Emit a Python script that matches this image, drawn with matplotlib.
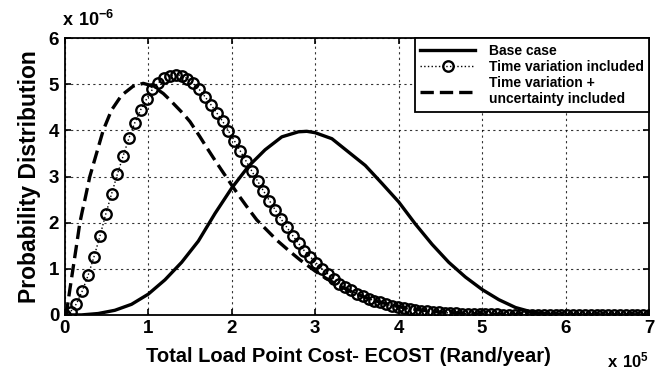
import numpy as np
import matplotlib
matplotlib.use("Agg")
import matplotlib.pyplot as plt

plt.rcParams['font.family'] = ['Liberation Sans', 'DejaVu Sans']
plt.rcParams['font.weight'] = 'bold'
plt.rcParams['mathtext.fontset'] = 'custom'
plt.rcParams['mathtext.bf'] = 'Liberation Sans:bold'
plt.rcParams['mathtext.rm'] = 'Liberation Sans:bold'

# Base case (solid curve), x in units of 1e5, y in units of 1e-6
base_x = [0, 0.2, 0.4, 0.6, 0.8, 1.0, 1.2, 1.4, 1.6, 1.8, 2.0, 2.2, 2.4, 2.6,
          2.8, 2.9, 3.0, 3.2, 3.4, 3.6, 3.8, 4.0, 4.2, 4.4, 4.6, 4.8, 5.0,
          5.2, 5.4, 5.6, 5.8, 6.0, 7.0]
base_y = [0, 0.0, 0.03, 0.10, 0.23, 0.45, 0.76, 1.14, 1.60, 2.20, 2.75, 3.22,
          3.58, 3.86, 3.97, 3.98, 3.95, 3.82, 3.53, 3.24, 2.85, 2.45, 1.97,
          1.53, 1.14, 0.82, 0.55, 0.33, 0.16, 0.06, 0.015, 0.0, 0.0]

# Time variation included (circle markers, step 0.07)
tv_x = np.linspace(0, 7, 101)
tv_y = [0.0, 0.07, 0.24, 0.52, 0.86, 1.26, 1.70, 2.18, 2.62, 3.05,
        3.45, 3.84, 4.17, 4.45, 4.68, 4.89, 5.03, 5.13, 5.19, 5.21,
        5.19, 5.12, 5.02, 4.89, 4.73, 4.56, 4.38, 4.20, 3.99, 3.78,
        3.56, 3.34, 3.12, 2.90, 2.69, 2.48, 2.28, 2.08, 1.90, 1.72,
        1.55, 1.39, 1.26, 1.13, 1.00, 0.89, 0.78, 0.68, 0.60, 0.53,
        0.46, 0.40, 0.35, 0.31, 0.27, 0.23, 0.20, 0.17, 0.15, 0.13,
        0.11, 0.095, 0.08, 0.07, 0.06, 0.05, 0.04, 0.035, 0.03, 0.025,
        0.02, 0.017, 0.014, 0.012, 0.01, 0.008, 0.007, 0.006, 0.005, 0.004,
        0.004, 0.003, 0.003, 0.002, 0.002, 0.002, 0.001, 0.001, 0.001, 0.001,
        0.0, 0.0, 0.0, 0.0, 0.0, 0.0, 0.0, 0.0, 0.0, 0.0, 0.0]

# Time variation + uncertainty included (dashed curve)
unc_x = [0, 0.02, 0.06, 0.09, 0.12, 0.15, 0.18, 0.21, 0.24, 0.30, 0.38, 0.46,
         0.56, 0.68, 0.82, 0.94, 1.02, 1.10, 1.18, 1.26, 1.34, 1.42, 1.50,
         1.62, 1.70, 1.80, 1.90, 2.02, 2.10, 2.20, 2.30, 2.42, 2.54, 2.68,
         2.82, 2.94, 3.06, 3.18, 3.30, 3.45, 3.60, 3.75, 3.90, 4.05, 4.20,
         4.50, 5.00, 5.50, 6.00, 7.00]
unc_y = [0, 0.04, 0.54, 0.90, 1.26, 1.62, 1.99, 2.25, 2.49, 3.00, 3.50, 4.00,
         4.44, 4.76, 4.96, 5.02, 4.98, 4.90, 4.80, 4.66, 4.51, 4.36, 4.19,
         3.86, 3.63, 3.35, 3.08, 2.76, 2.55, 2.30, 2.06, 1.84, 1.62, 1.40,
         1.19, 1.03, 0.87, 0.74, 0.62, 0.49, 0.38, 0.29, 0.22, 0.16, 0.12,
         0.06, 0.02, 0.005, 0.0, 0.0]

fig = plt.figure(figsize=(6.61, 3.74), dpi=100)
ax = fig.add_axes([0.098, 0.158, 0.884, 0.74])

ax.plot(base_x, base_y, '-', color='black', linewidth=2.4, label='Base case')
ax.plot(tv_x, tv_y, ':', color='black', linewidth=1.0, marker='o', markersize=7.5,
        markerfacecolor='none', markeredgewidth=1.7, label='Time variation included')
ax.plot(unc_x, unc_y, '--', color='black', linewidth=2.4, dashes=(4, 1.8),
        label='Time variation +\nuncertainty included')

ax.set_xlim(0, 7)
ax.set_ylim(0, 6)
ax.set_xticks(range(0, 8))
ax.set_yticks(range(0, 7))
ax.tick_params(direction='in', labelsize=13.5, width=1.2, length=4, top=True, right=True,
               labeltop=False, labelright=False, pad=4)
for lab in ax.get_xticklabels() + ax.get_yticklabels():
    lab.set_fontweight('bold')
for s in ax.spines.values():
    s.set_linewidth(1.3)
ax.grid(True, color='black', linestyle=(0, (2, 3)), linewidth=0.8, alpha=0.8)

ax.set_xlabel('Total Load Point Cost- ECOST (Rand/year)', fontsize=14.5, fontweight='bold',
              labelpad=9)
ax.xaxis.set_label_coords(0.485, -0.115)
ax.xaxis.label.set_va('top')
ax.set_ylabel('Probability Distribution', fontsize=16.5, fontweight='bold', labelpad=6)

ax.text(-0.005, 1.03, r'$\mathbf{x\ 10^{-6}}$', transform=ax.transAxes, fontsize=13,
        ha='left', va='bottom')
ax.text(1.0, -0.13, r'$\mathbf{x\ 10^{5}}$', transform=ax.transAxes, fontsize=12,
        ha='right', va='top')

leg = ax.legend(loc='upper right', frameon=True, fancybox=False,
                borderaxespad=0.0, handlelength=3.9, labelspacing=0.15,
                handletextpad=1.0, borderpad=0.4,
                prop={'weight': 'bold', 'size': 10})
leg.get_frame().set_edgecolor('black')
leg.get_frame().set_linewidth(1.3)
leg.get_frame().set_alpha(1)

fig.savefig('out.png', dpi=100)
